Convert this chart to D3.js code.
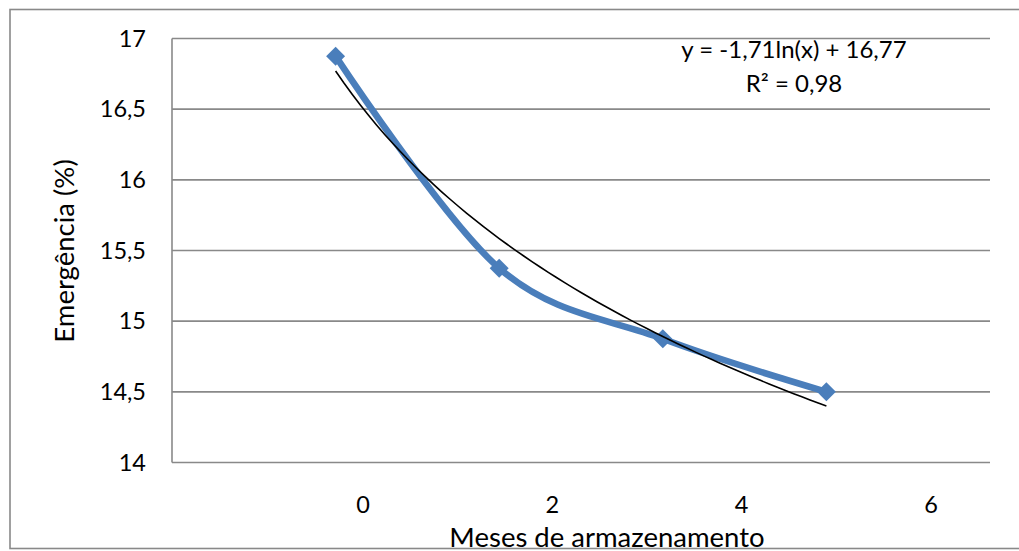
<!DOCTYPE html>
<html>
<head>
<meta charset="utf-8">
<script src="https://cdn.jsdelivr.net/npm/d3@7"></script>
<style>
  body { margin: 0; background: #fff; }
  text { font-family: Lato, "Open Sans", sans-serif; fill: #000; }
</style>
</head>
<body>
<script>
// data
var categories = ["0", "2", "4", "6"];          // x tick labels
var months = [1, 2, 3, 4];                      // x position of each point
var emergencia = [16.875, 15.375, 14.875, 14.5];
var yTicks = [14, 14.5, 15, 15.5, 16, 16.5, 17];
var trend = [-1.71, 16.77];                     // y = a ln(x) + b
var trendText = ["y = -1,71ln(x) + 16,77", "R² = 0,98"];

var w = 1019, h = 551;
var plotL = 172, plotR = 990, plotT = 38.5, plotB = 462.5;   // plot area

var svg = d3.select("body").append("svg")
    .attr("width", w)
    .attr("height", h);

// outer frame
var frame = svg.append("rect")
    .attr("x", 10).attr("y", 9.5)
    .attr("width", 1030).attr("height", 539)
    .style("fill", "none")
    .style("stroke", "#898989")
    .style("stroke-width", 1.6);

var x = d3.scaleLinear().domain([0, 5]).range([plotL, plotR]);
var y = d3.scaleLinear().domain([14, 17]).range([plotB, plotT]);
var xLab = d3.scalePoint().domain(categories).range([363, 931]);

// gridlines
var grid = svg.selectAll(".grid")
    .data(yTicks)
    .enter()
    .append("line")
    .attr("class", "grid")
    .attr("x1", plotL).attr("x2", plotR)
    .attr("y1", function(d){ return y(d); })
    .attr("y2", function(d){ return y(d); })
    .style("stroke", "#898989")
    .style("stroke-width", 1.6);

var yLine = svg.append("line")
    .attr("x1", plotL).attr("x2", plotL)
    .attr("y1", plotT).attr("y2", plotB)
    .style("stroke", "#898989")
    .style("stroke-width", 1.6);

// y tick labels
var yLabels = svg.selectAll(".ylab")
    .data(yTicks)
    .enter()
    .append("text")
    .attr("class", "ylab")
    .attr("text-anchor", "end")
    .attr("x", 146)
    .attr("y", function(d){ return y(d) + 8; })
    .style("font-size", "23.5px")
    .text(function(d){ return String(d).replace(".", ","); });

// x tick labels
var xLabels = svg.selectAll(".xlab")
    .data(categories)
    .enter()
    .append("text")
    .attr("class", "xlab")
    .attr("text-anchor", "middle")
    .attr("x", function(d){ return xLab(d); })
    .attr("y", 513)
    .style("font-size", "23.5px")
    .text(function(d){ return d; });

// axis titles
var xTitle = svg.append("text")
    .attr("text-anchor", "middle")
    .attr("x", 607).attr("y", 547)
    .style("font-size", "27.5px")
    .text("Meses de armazenamento");

var yTitle = svg.append("text")
    .attr("text-anchor", "middle")
    .attr("transform", "translate(73.5,251) rotate(-90)")
    .style("font-size", "27.5px")
    .text("Emergência (%)");

// series
var pts = months.map(function(m, i){ return [m, emergencia[i]]; });

var series = svg.append("path")
    .datum(pts)
    .attr("d", d3.line()
        .x(function(d){ return x(d[0]); })
        .y(function(d){ return y(d[1]); })
        .curve(d3.curveCardinal.tension(0)))
    .style("fill", "none")
    .style("stroke", "#4A7EBB")
    .style("stroke-width", 6.5);

var markers = svg.selectAll(".marker")
    .data(pts)
    .enter()
    .append("path")
    .attr("class", "marker")
    .attr("d", d3.symbol().type(d3.symbolSquare).size(180))
    .attr("transform", function(d){ return "translate(" + x(d[0]) + "," + y(d[1]) + ") rotate(45)"; })
    .style("fill", "#4A7EBB");

// log trendline
var tx = d3.range(months[0], months[months.length - 1] + 0.001, 0.05);
var trendLine = svg.append("path")
    .datum(tx)
    .attr("d", d3.line()
        .x(function(d){ return x(d); })
        .y(function(d){ return y(trend[0] * Math.log(d) + trend[1]); }))
    .style("fill", "none")
    .style("stroke", "#000")
    .style("stroke-width", 1.6);

var eq = svg.selectAll(".eq")
    .data(trendText)
    .enter()
    .append("text")
    .attr("class", "eq")
    .attr("text-anchor", "middle")
    .attr("x", 794)
    .attr("y", function(d, i){ return 58 + i * 33.5; })
    .style("font-size", "24px")
    .text(function(d){ return d; });
</script>
</body>
</html>
